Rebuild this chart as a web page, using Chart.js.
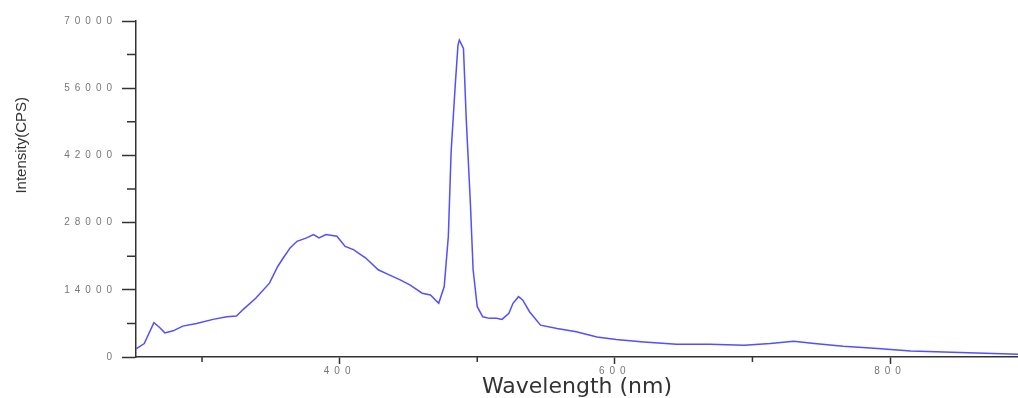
<!DOCTYPE html>
<html>
<head>
<meta charset="utf-8">
<script src="https://cdn.jsdelivr.net/npm/chart.js@4"></script>
<style>
  html, body { margin: 0; padding: 0; background: #fff; }
  #wrap { width: 1018px; height: 398px; }
</style>
</head>
<body>
<div id="wrap"><canvas id="myChart1"></canvas></div>
<script>
// spectrum
var wavelengths = [252, 258, 265, 269, 273, 279, 286, 296, 308, 318, 325, 330, 339, 349, 355, 359, 364, 369, 376, 381, 385, 390, 398,
  404, 410, 419, 428, 436, 444, 451, 460, 466, 472, 476, 479, 481, 484, 486, 487, 490, 492, 495, 497, 500, 504, 509, 514, 518,
  523, 526, 530, 533, 538, 546, 558, 572, 587, 601, 621, 645, 669, 694, 713, 730, 745, 766, 791, 815, 839, 863, 893];
var intensity = [1700, 2800, 7130, 6200, 5030, 5450, 6430, 7000, 7840, 8380, 8530, 9930, 12240, 15380, 18860, 20620, 22720, 24100, 24810, 25500, 24810, 25500, 25150,
  23050, 22360, 20620, 18170, 17120, 16070, 15030, 13290, 12930, 11190, 14670, 25150, 42630, 56590, 64970, 66020, 64280, 49610, 32150, 18170, 10480, 8380, 8050, 8050, 7840,
  9090, 11190, 12570, 11880, 9430, 6640, 5950, 5240, 4190, 3650, 3140, 2660, 2660, 2450, 2800, 3290, 2800, 2240, 1760, 1260, 1050, 840, 570];
var xMinor = [300, 500, 700];
var yMinor = [7000, 21000, 35000, 49000, 63000];

var points = wavelengths.map(function (w, i) { return { x: w, y: intensity[i] }; });

// tick labels in the original are widely spaced
var spacing = {
  id: 'spacing',
  afterDatasetsDraw: function (chart) { chart.ctx.letterSpacing = '5px'; },
  afterDraw: function (chart) {
    var c = chart.ctx;
    c.letterSpacing = '0px';
    // short minor ticks between the labelled ones
    var x = chart.scales.x, y = chart.scales.y;
    c.save();
    c.strokeStyle = '#333';
    c.lineWidth = 1.5;
    c.beginPath();
    yMinor.forEach(function (v) {
      var py = y.getPixelForValue(v);
      c.moveTo(y.right - 9, py);
      c.lineTo(y.right, py);
    });
    xMinor.forEach(function (v) {
      var px = x.getPixelForValue(v);
      c.moveTo(px, x.top);
      c.lineTo(px, x.top + 5);
    });
    c.stroke();
    c.restore();
  }
};

var ctx = document.getElementById("myChart1").getContext('2d');
var myChart = new Chart(ctx, {
  type: 'line',
  data: {
    datasets: [{
      data: points,
      borderColor: '#5050ff',
      borderWidth: 1.5,
      pointRadius: 0,
      tension: 0,
      fill: false
    }]
  },
  options: {
    responsive: true,
    maintainAspectRatio: false,
    animation: false,
    layout: { padding: { top: 21, right: 0, bottom: 0, left: 0 } },
    plugins: { legend: { display: false }, tooltip: { enabled: false } },
    scales: {
      x: {
        type: 'linear',
        min: 252,
        max: 893,
        afterFit: function (s) { s.height = 41; },
        border: { display: true, color: '#333', width: 1.5 },
        grid: { drawOnChartArea: false, drawTicks: true, tickLength: 7, color: '#333', tickWidth: 1.5 },
        ticks: {
          stepSize: 200,
          includeBounds: false,
          autoSkip: false,
          maxRotation: 0,
          padding: 1,
          z: 1,
          color: '#777',
          font: { family: 'Liberation Sans', size: 10 },
          callback: function (v) { return String(v); }
        },
        title: {
          display: true,
          text: 'Wavelength (nm)',
          color: '#333',
          padding: { top: 0, bottom: 0 },
          font: { family: 'DejaVu Sans', size: 22, lineHeight: 1 }
        }
      },
      y: {
        min: 0,
        max: 70000,
        afterFit: function (s) { s.width = 136; },
        border: { display: true, color: '#333', width: 1.5 },
        grid: { drawOnChartArea: false, drawTicks: true, tickLength: 14, color: '#333', tickWidth: 1.5 },
        ticks: {
          stepSize: 14000,
          autoSkip: false,
          padding: 5,
          z: 1,
          color: '#777',
          font: { family: 'Liberation Sans', size: 10 },
          callback: function (v) { return String(v); }
        },
        title: {
          display: true,
          text: '\u00a0'.repeat(21) + 'Intensity(CPS)',
          color: '#333',
          padding: { top: 13, bottom: 0 },
          font: { family: 'Liberation Sans', size: 15 }
        }
      }
    }
  },
  plugins: [spacing]
});
</script>
</body>
</html>
